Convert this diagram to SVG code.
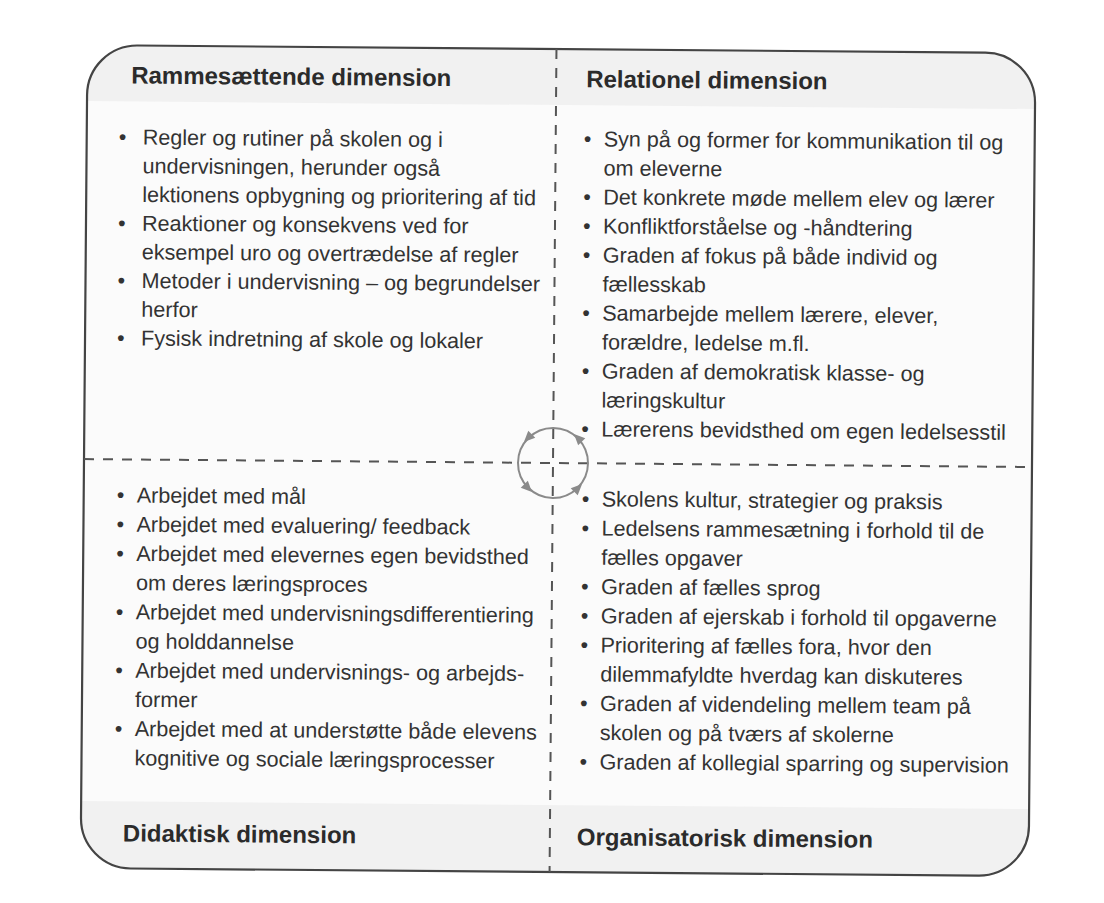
<svg xmlns="http://www.w3.org/2000/svg" width="1104" height="903" viewBox="0 0 1104 903">
<defs>
<style>
.h{font-family:"Liberation Sans",Arial,sans-serif;font-weight:bold;font-size:24px;fill:#2b2b2b}
.t{font-family:"Liberation Sans",Arial,sans-serif;font-size:21.6px;fill:#333}
.div{stroke:#555;stroke-width:2;stroke-dasharray:10 9;fill:none}
.ring{stroke:#8a8a8a;stroke-width:2;fill:none}
.ah{fill:#8a8a8a}
</style>
<clipPath id="boxclip"><path d="M134,49 H982 A50,50 0 0 1 1032,99 V822 A50,50 0 0 1 982,872 H134 A50,50 0 0 1 84,822 V99 A50,50 0 0 1 134,49 Z"/></clipPath>
<path id="arrow" d="M6,0 L-5,-5 L-5,5 Z"/>
</defs>
<rect width="1104" height="903" fill="#ffffff"/>
<g transform="rotate(0.48 553 463)">
  <g id="frame">
    <path d="M134,49 H982 A50,50 0 0 1 1032,99 V822 A50,50 0 0 1 982,872 H134 A50,50 0 0 1 84,822 V99 A50,50 0 0 1 134,49 Z" fill="#fbfbfb"/>
    <g clip-path="url(#boxclip)">
      <rect x="84" y="49" width="948" height="56" fill="#f1f1f1"/>
      <rect x="84" y="805" width="948" height="67" fill="#f1f1f1"/>
    </g>
    <path d="M134,49 H982 A50,50 0 0 1 1032,99 V822 A50,50 0 0 1 982,872 H134 A50,50 0 0 1 84,822 V99 A50,50 0 0 1 134,49 Z" fill="none" stroke="#444" stroke-width="2.2"/>
  </g>
  <g id="connectors">
    <line class="div" x1="553" y1="49" x2="553" y2="872"/>
    <line class="div" x1="84" y1="463" x2="1032" y2="463"/>
    <circle class="ring" cx="553" cy="463" r="35"/>
    <use href="#arrow" class="ah" transform="translate(578 438) rotate(-135)"/>
    <use href="#arrow" class="ah" transform="translate(578 488) rotate(-45)"/>
    <use href="#arrow" class="ah" transform="translate(528 488) rotate(45)"/>
    <use href="#arrow" class="ah" transform="translate(528 438) rotate(135)"/>
  </g>
  <g id="rammesaettende">
    <text class="h" x="128" y="87">Rammesættende dimension</text>
    <text class="t">
      <tspan x="116" y="148">•</tspan><tspan x="140" y="148">Regler og rutiner på skolen og i</tspan>
      <tspan x="140" y="176.7">undervisningen, herunder også</tspan>
      <tspan x="140" y="205.4">lektionens opbygning og prioritering af tid</tspan>
      <tspan x="116" y="234.1">•</tspan><tspan x="140" y="234.1">Reaktioner og konsekvens ved for</tspan>
      <tspan x="140" y="262.8">eksempel uro og overtrædelse af regler</tspan>
      <tspan x="116" y="291.5">•</tspan><tspan x="140" y="291.5">Metoder i undervisning – og begrundelser</tspan>
      <tspan x="140" y="320.2">herfor</tspan>
      <tspan x="116" y="348.9">•</tspan><tspan x="140" y="348.9">Fysisk indretning af skole og lokaler</tspan>
    </text>
  </g>
  <g id="relationel">
    <text class="h" x="583" y="87">Relationel dimension</text>
    <text class="t">
      <tspan x="581" y="146">•</tspan><tspan x="601" y="146">Syn på og former for kommunikation til og</tspan>
      <tspan x="601" y="175">om eleverne</tspan>
      <tspan x="581" y="204">•</tspan><tspan x="601" y="204">Det konkrete møde mellem elev og lærer</tspan>
      <tspan x="581" y="233">•</tspan><tspan x="601" y="233">Konfliktforståelse og -håndtering</tspan>
      <tspan x="581" y="262">•</tspan><tspan x="601" y="262">Graden af fokus på både individ og</tspan>
      <tspan x="601" y="291">fællesskab</tspan>
      <tspan x="581" y="320">•</tspan><tspan x="601" y="320">Samarbejde mellem lærere, elever,</tspan>
      <tspan x="601" y="349">forældre, ledelse m.fl.</tspan>
      <tspan x="581" y="378">•</tspan><tspan x="601" y="378">Graden af demokratisk klasse- og</tspan>
      <tspan x="601" y="407">læringskultur</tspan>
      <tspan x="581" y="436">•</tspan><tspan x="601" y="436">Lærerens bevidsthed om egen ledelsesstil</tspan>
    </text>
  </g>
  <g id="didaktisk">
    <text class="t">
      <tspan x="117" y="506">•</tspan><tspan x="137" y="506">Arbejdet med mål</tspan>
      <tspan x="117" y="535.2">•</tspan><tspan x="137" y="535.2">Arbejdet med evaluering/ feedback</tspan>
      <tspan x="117" y="564.4">•</tspan><tspan x="137" y="564.4">Arbejdet med elevernes egen bevidsthed</tspan>
      <tspan x="137" y="593.6">om deres læringsproces</tspan>
      <tspan x="117" y="622.8">•</tspan><tspan x="137" y="622.8">Arbejdet med undervisningsdifferentiering</tspan>
      <tspan x="137" y="652">og holddannelse</tspan>
      <tspan x="117" y="681.2">•</tspan><tspan x="137" y="681.2">Arbejdet med undervisnings- og arbejds-</tspan>
      <tspan x="137" y="710.4">former</tspan>
      <tspan x="117" y="739.6">•</tspan><tspan x="137" y="739.6">Arbejdet med at understøtte både elevens</tspan>
      <tspan x="137" y="768.8">kognitive og sociale læringsprocesser</tspan>
    </text>
    <text class="h" x="126" y="845">Didaktisk dimension</text>
  </g>
  <g id="organisatorisk">
    <text class="t">
      <tspan x="582" y="506">•</tspan><tspan x="602" y="506">Skolens kultur, strategier og praksis</tspan>
      <tspan x="582" y="535.2">•</tspan><tspan x="602" y="535.2">Ledelsens rammesætning i forhold til de</tspan>
      <tspan x="602" y="564.4">fælles opgaver</tspan>
      <tspan x="582" y="593.6">•</tspan><tspan x="602" y="593.6">Graden af fælles sprog</tspan>
      <tspan x="582" y="622.8">•</tspan><tspan x="602" y="622.8">Graden af ejerskab i forhold til opgaverne</tspan>
      <tspan x="582" y="652">•</tspan><tspan x="602" y="652">Prioritering af fælles fora, hvor den</tspan>
      <tspan x="602" y="681.2">dilemmafyldte hverdag kan diskuteres</tspan>
      <tspan x="582" y="710.4">•</tspan><tspan x="602" y="710.4">Graden af videndeling mellem team på</tspan>
      <tspan x="602" y="739.6">skolen og på tværs af skolerne</tspan>
      <tspan x="582" y="768.8">•</tspan><tspan x="602" y="768.8">Graden af kollegial sparring og supervision</tspan>
    </text>
    <text class="h" x="580" y="845">Organisatorisk dimension</text>
  </g>
</g>
</svg>
